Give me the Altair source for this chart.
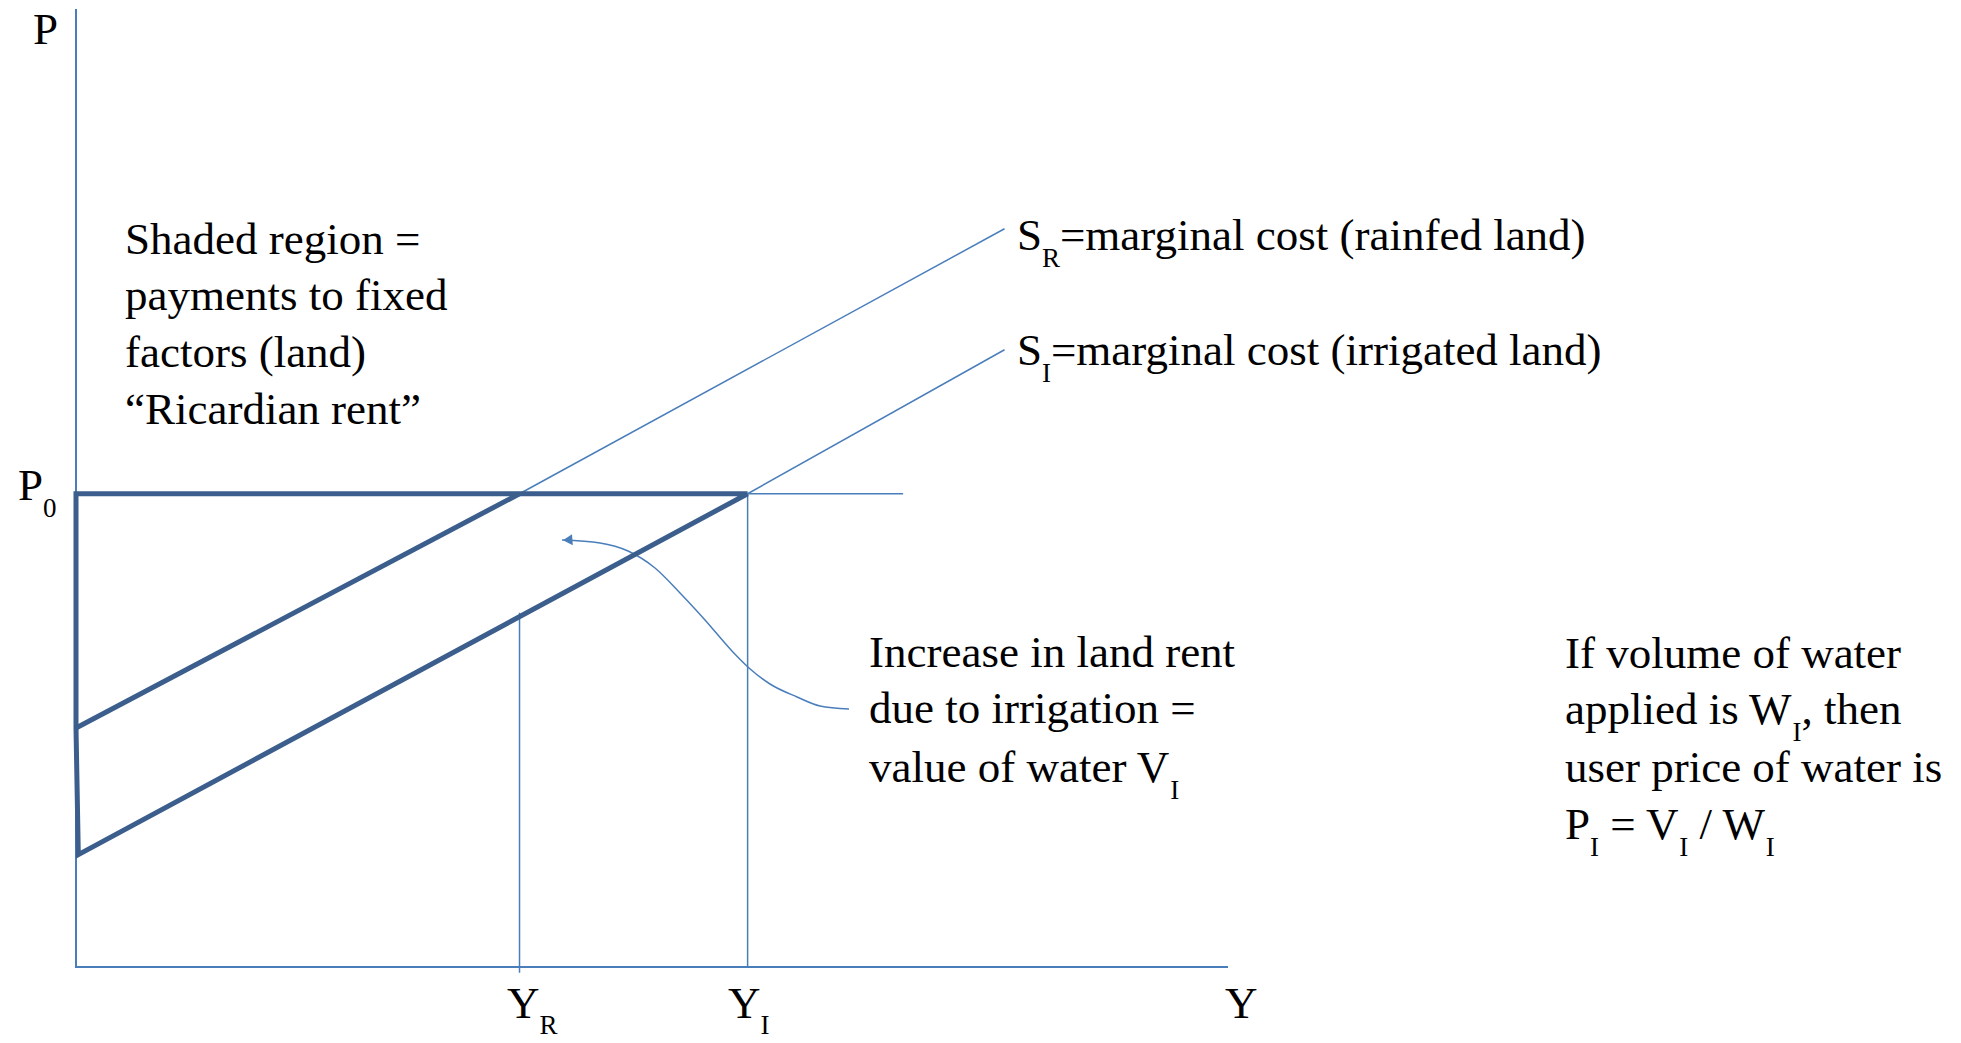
import altair as alt
import pandas as pd

# ---------------- chart frame (economic units: Q across, P up) ----------------
W, H = 1945, 1027
X_DOMAIN = [-0.5903, 16.2934]
Y_DOMAIN = [-0.7083, 9.9896]
PX_PER_Q = W / (X_DOMAIN[1] - X_DOMAIN[0])
PX_PER_P = H / (Y_DOMAIN[1] - Y_DOMAIN[0])

# ---------------- values ----------------
P0 = 4.93          # market price
Y_R = 3.85         # output on rainfed land
Y_I = 5.83         # output on irrigated land
AXIS_Q_END = 10.0
AXIS_P_END = 9.98

SR_Q = [0.0, Y_R, 8.06]      # S_R marginal cost (rainfed)
SR_P = [2.49, P0, 7.69]
SI_Q = [0.02, Y_I, 8.06]     # S_I marginal cost (irrigated)
SI_P = [1.17, P0, 6.43]
P0_EXT_Q = 7.18
YR_DROP_TOP = 3.69

CURVE_Q = [4.219, 4.549, 4.792, 5.026, 5.243, 5.460, 5.694, 5.842, 6.024, 6.259, 6.458, 6.710]
CURVE_P = [4.448, 4.417, 4.333, 4.156, 3.896, 3.615, 3.292, 3.115, 2.948, 2.813, 2.719, 2.688]
ARROW_Q = [4.268]
ARROW_P = [4.448]

LEFT_LINES = ["Shaded region =", "payments to fixed", "factors (land)", "\u201cRicardian rent\u201d"]
MID_LINES = [[("Increase in land rent", 0)], [("due to irrigation =", 0)], [("value of water V", 0), ("I", 1)]]
RIGHT_LINES = [[("If volume of water", 0)],
               [("applied is W", 0), ("I", 1), (", then", 0)],
               [("user price of water is", 0)],
               [("P", 0), ("I", 1), (" = V", 0), ("I", 1), (" / W", 0), ("I", 1)]]
SR_LABEL = [("S", 0), ("R", 1), ("=marginal cost (rainfed land)", 0)]
SI_LABEL = [("S", 0), ("I", 1), ("=marginal cost (irrigated land)", 0)]

FONT = "Liberation Serif"
MAIN_SIZE = 45
SUB_SIZE = 27
SUB_DROP_PX = 17
THICK = "#3B5E8C"
THIN = "#4A7EBB"

# Times/Liberation Serif advance widths (per 1000 em)
TW = {" ": 250, "\u201c": 444, "\u201d": 444, "(": 333, ")": 333, ",": 250, "/": 278, "=": 564,
      "0": 500, "I": 333, "P": 556, "R": 667, "S": 556, "V": 722, "W": 944, "Y": 722,
      "a": 444, "b": 500, "c": 444, "d": 500, "e": 444, "f": 333, "g": 500, "h": 500, "i": 278,
      "j": 278, "k": 500, "l": 278, "m": 778, "n": 500, "o": 500, "p": 500, "q": 500, "r": 333,
      "s": 389, "t": 278, "u": 500, "v": 500, "w": 722, "x": 500, "y": 500, "z": 444}


def tw(s, size):
    return sum(TW.get(c, 500) for c in s) / 1000.0 * size


texts = []


def label(q, p, runs, sub_drop=SUB_DROP_PX):
    x = q
    for s, sub in runs:
        size = SUB_SIZE if sub else MAIN_SIZE
        stripped = s.lstrip(" ")
        x += tw(s[: len(s) - len(stripped)], size) / PX_PER_Q   # leading blanks are collapsed in SVG
        yy = p - (sub_drop / PX_PER_P if sub else 0)
        texts.append({"q": x, "p": yy, "t": stripped, "size": size})
        x += tw(stripped, size) / PX_PER_Q


# axis labels
label(-0.373, 9.615, [("P", 0)])
label(-0.503, 4.865, [("P", 0), ("0", 1)])
label(3.741, -0.531, [("Y", 0), ("R", 1)], sub_drop=16)
label(5.660, -0.531, [("Y", 0), ("I", 1)], sub_drop=16)
label(9.974, -0.531, [("Y", 0)])
# curve labels
label(8.168, 7.469, SR_LABEL)
label(8.168, 6.271, SI_LABEL)
# text blocks
for line, base in zip(LEFT_LINES, [7.427, 6.844, 6.250, 5.656]):
    label(0.425, base, [(line, 0)])
for runs, base in zip(MID_LINES, [3.125, 2.542, 1.927]):
    label(6.884, base, runs)
for runs, base in zip(RIGHT_LINES, [3.115, 2.531, 1.927, 1.333]):
    label(12.925, base, runs)

text_df = pd.DataFrame(texts)

# ---------------- line segments ----------------
rows = []


def seg(name, qs, ps, kind):
    for k, (q, p) in enumerate(zip(qs, ps)):
        rows.append({"id": name, "o": k, "q": q, "p": p, "kind": kind})


# thick outline of the rent region
seg("outline", [Y_I, 0.0, 0.0, SI_Q[0], Y_I], [P0, P0, SR_P[0], SI_P[0], P0], "thick")
seg("sr_thick", SR_Q[:2], SR_P[:2], "thick")
# thin lines
seg("sr_thin", SR_Q[1:], SR_P[1:], "thin")
seg("si_thin", SI_Q[1:], SI_P[1:], "thin")
seg("p0_ext", [Y_I, P0_EXT_Q], [P0, P0], "thin")
seg("drop_yr", [Y_R, Y_R], [YR_DROP_TOP, -0.06], "thin")
seg("drop_yi", [Y_I, Y_I], [P0, 0.0], "thin")
seg("axes", [0.0, 0.0, AXIS_Q_END], [AXIS_P_END, 0.0, 0.0], "axis")
seg_df = pd.DataFrame(rows)

curve_df = pd.DataFrame({"q": CURVE_Q, "p": CURVE_P, "o": list(range(len(CURVE_Q)))})
arrow_df = pd.DataFrame({"q": ARROW_Q, "p": ARROW_P})

xs = alt.Scale(domain=X_DOMAIN, nice=False, zero=False)
ys = alt.Scale(domain=Y_DOMAIN, nice=False, zero=False)
X = alt.X("q:Q", scale=xs, axis=None)
Yc = alt.Y("p:Q", scale=ys, axis=None)


def lines(kind, color, width):
    return alt.Chart(seg_df).transform_filter(alt.datum.kind == kind).mark_line(
        color=color, strokeWidth=width, strokeJoin="miter", strokeCap="butt"
    ).encode(x=X, y=Yc, detail="id:N", order="o:Q")


axes_l = lines("axis", THIN, 2)
thin_l = lines("thin", THIN, 1.5)
thick_l = lines("thick", THICK, 5)

curve = alt.Chart(curve_df).mark_line(color=THIN, strokeWidth=1.5, interpolate="monotone").encode(
    x=X, y=Yc, order="o:Q")
arrow = alt.Chart(arrow_df).mark_point(shape="triangle-left", filled=True, size=120,
                                       color=THIN, opacity=1, angle=356).encode(x=X, y=Yc)

txt = alt.Chart(text_df).mark_text(font=FONT, align="left", baseline="alphabetic", color="black").encode(
    x=X, y=Yc, text="t:N", size=alt.Size("size:Q", scale=None))

chart = alt.layer(axes_l, thin_l, curve, arrow, thick_l, txt).properties(
    width=W, height=H, padding=0, autosize=alt.AutoSizeParams(type="none"), background="white"
).configure(view=alt.ViewConfig(strokeWidth=0, stroke=None) if False else alt.ViewConfig(strokeWidth=0))

chart.save("out.html", embed_options={"renderer": "svg", "actions": False})
